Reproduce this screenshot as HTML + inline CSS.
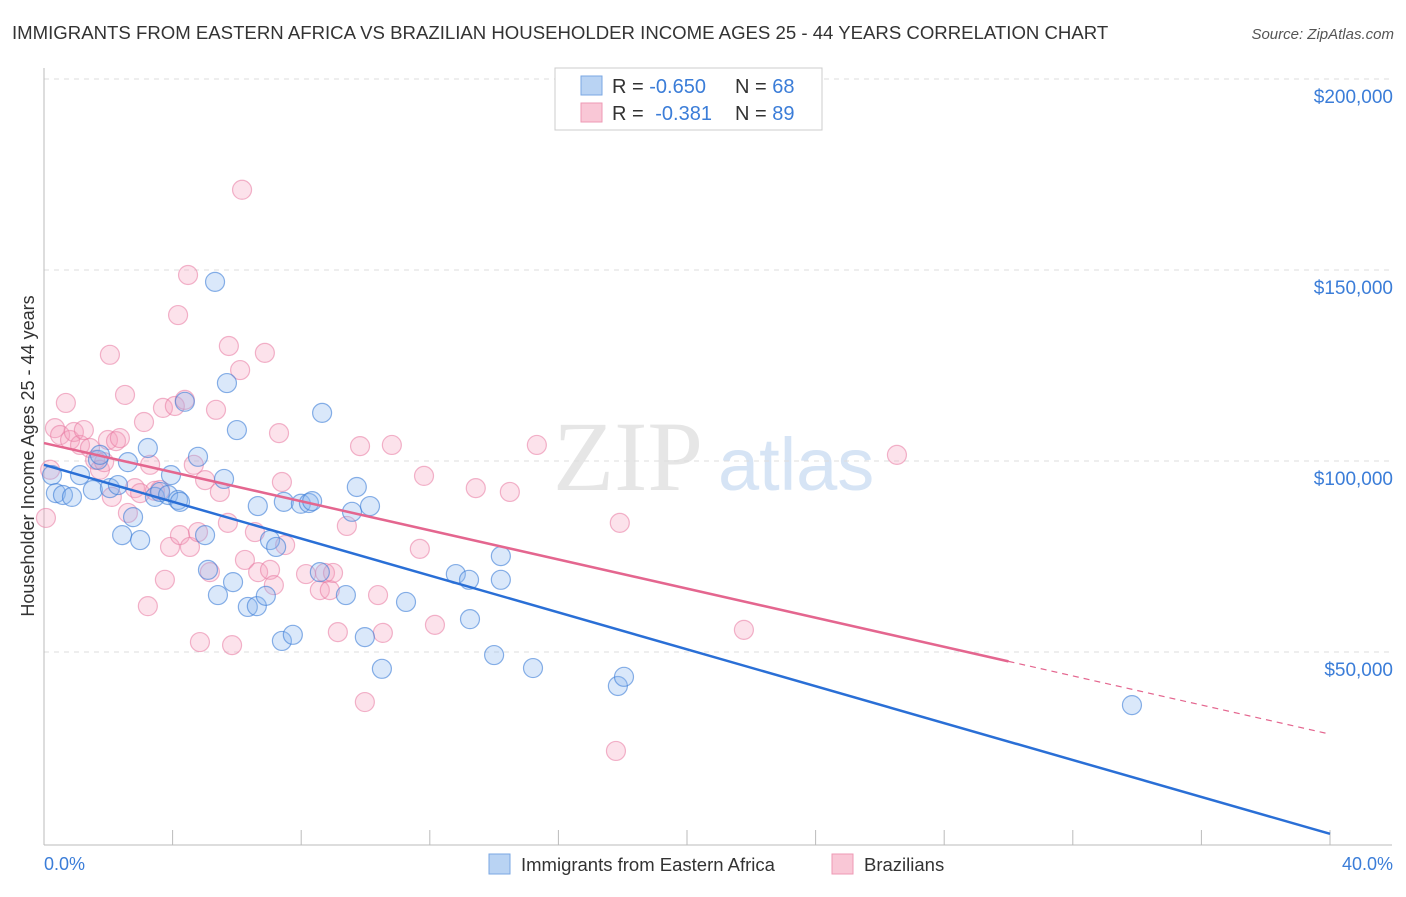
<!DOCTYPE html>
<html><head><meta charset="utf-8"><style>
body{margin:0;background:#fff;font-family:"Liberation Sans",sans-serif;}
svg text{font-family:"Liberation Sans",sans-serif;}
</style></head><body>
<svg id="chart" width="1406" height="892" xmlns="http://www.w3.org/2000/svg">
<text x="12" y="39" font-size="18.6" fill="#333">IMMIGRANTS FROM EASTERN AFRICA VS BRAZILIAN HOUSEHOLDER INCOME AGES 25 - 44 YEARS CORRELATION CHART</text>
<text x="1394" y="39" font-size="15" fill="#555" font-style="italic" text-anchor="end">Source: ZipAtlas.com</text>
<g>
<text x="553" y="490" font-size="100" fill="#e6e6e6" style="font-family:'Liberation Serif',serif">ZIP</text>
<text x="718" y="490" font-size="74" fill="#d6e4f5">atlas</text>
</g>
<g id="grid"></g>
<line x1="44" y1="68" x2="44" y2="845" stroke="#bbb" stroke-width="1"/>
<line x1="44" y1="845" x2="1392" y2="845" stroke="#bbb" stroke-width="1"/>
<text transform="translate(34,456) rotate(-90)" font-size="18" fill="#333" text-anchor="middle">Householder Income Ages 25 - 44 years</text>
<text x="44" y="870" font-size="18" fill="#3b7dd8">0.0%</text>
<text x="1393" y="870" font-size="18" fill="#3b7dd8" text-anchor="end">40.0%</text>
<g id="marks"></g>
<g>
<rect x="555" y="68" width="267" height="62" fill="#fff" stroke="#ccc"/>
<rect x="581" y="76" width="21" height="19" fill="#b9d3f3" stroke="#7aa7e3"/>
<rect x="581" y="103" width="21" height="19" fill="#f9c7d6" stroke="#ee9ab4"/>
<text x="612" y="93" font-size="20" fill="#333">R = <tspan fill="#3b7dd8">-0.650</tspan></text>
<text x="735" y="93" font-size="20" fill="#333">N = <tspan fill="#3b7dd8">68</tspan></text>
<text x="612" y="120" font-size="20" fill="#333">R = <tspan fill="#3b7dd8" dx="6">-0.381</tspan></text>
<text x="735" y="120" font-size="20" fill="#333">N = <tspan fill="#3b7dd8">89</tspan></text>
</g>
<g>
<rect x="489" y="854" width="21" height="20" fill="#b9d3f3" stroke="#7aa7e3"/>
<text x="521" y="871" font-size="18.5" fill="#333">Immigrants from Eastern Africa</text>
<rect x="832" y="854" width="21" height="20" fill="#f9c7d6" stroke="#ee9ab4"/>
<text x="864" y="871" font-size="18.5" fill="#333">Brazilians</text>
</g>
</svg>
<script>
const yTicks=[50000,100000,150000,200000];
const yTickLabels=["$50,000","$100,000","$150,000","$200,000"];
const xTicks=[0,4,8,12,16,20,24,28,32,36,40];
const blueX=[0.25,0.37,0.59,0.87,1.12,1.52,1.68,1.74,2.05,2.30,2.43,2.61,2.77,2.99,3.23,3.45,3.61,3.86,3.95,4.17,4.23,4.38,4.79,5.01,5.10,5.32,5.41,5.60,5.69,5.88,6.00,6.34,6.62,6.65,6.90,7.03,7.22,7.40,7.46,7.74,7.99,8.24,8.34,8.58,8.65,9.39,9.58,9.73,9.98,10.14,10.51,11.26,12.81,13.22,13.25,14.00,14.21,14.21,15.21,17.85,18.04,33.84];
const blueY=[96.3,91.6,91.1,90.6,96.3,92.4,100.3,101.6,92.9,93.7,80.6,99.7,85.3,79.3,103.4,90.6,91.9,91.1,96.3,89.8,89.3,115.5,101.1,80.6,71.5,146.9,64.9,95.3,120.4,68.3,108.1,61.8,62.0,88.2,64.7,79.3,77.5,52.9,89.3,54.5,88.8,89.0,89.5,70.9,112.6,64.9,86.7,93.2,53.9,88.2,45.6,63.1,70.4,68.9,58.6,49.2,75.1,68.9,45.8,41.1,43.5,36.1];
const pinkX=[0.06,0.19,0.34,0.50,0.68,0.81,0.93,1.12,1.24,1.43,1.59,1.74,1.87,1.99,2.05,2.11,2.24,2.36,2.52,2.61,2.83,2.99,3.11,3.23,3.30,3.45,3.61,3.70,3.76,3.92,4.07,4.17,4.23,4.38,4.48,4.54,4.66,4.79,4.85,5.01,5.16,5.35,5.47,5.72,5.75,5.85,6.10,6.16,6.25,6.56,6.66,6.87,7.03,7.15,7.31,7.40,7.50,8.15,8.58,8.74,8.89,8.99,9.14,9.42,9.83,9.98,10.39,10.54,10.82,11.69,11.82,12.16,13.43,14.49,15.33,17.79,17.91,21.77,26.53];
const pinkY=[85.1,97.7,108.6,106.8,115.2,105.5,107.6,104.2,108.1,103.4,100.3,97.7,99.7,105.5,127.8,90.6,105.2,106.0,117.3,86.4,92.9,91.6,110.2,62.0,99.0,92.2,92.4,113.9,68.9,77.5,114.4,138.2,80.6,116.0,148.7,77.5,99.0,81.4,52.6,95.0,70.9,113.4,91.9,83.8,130.1,51.8,123.8,171.0,74.1,81.4,70.9,128.3,71.5,67.5,107.3,94.5,78.0,70.4,66.2,70.7,66.2,70.7,55.2,83.0,103.9,36.9,64.9,55.0,104.2,77.0,96.1,57.1,92.9,91.9,104.2,24.1,83.8,55.8,101.6];
const blueTrend=[99.0,2.4];   // income (k) at x=0% and x=40%
const pinkTrend=[104.7,28.5];
const pinkSolidEnd=30.0;

const NS="http://www.w3.org/2000/svg";
const X=v=>44+v/40*1286;
const Y=v=>843-v/50000*191;
const Yk=v=>Y(v*1000);
function mk(tag,attrs,parent){const e=document.createElementNS(NS,tag);for(const k in attrs)e.setAttribute(k,attrs[k]);parent.appendChild(e);return e;}
const grid=document.getElementById('grid');
yTicks.forEach((t,i)=>{
  const l=mk('line',{x1:44,x2:1392,y1:Y(t),y2:Y(t),stroke:'#ddd','stroke-dasharray':'5,5'},grid);
  
  
  const tx=mk('text',{x:1393,y:Y(t)+24,'font-size':19,fill:'#3b7dd8','text-anchor':'end'},grid);
  tx.textContent=yTickLabels[i];
  
  
});
xTicks.forEach(t=>{
  const l=mk('line',{x1:X(t),x2:X(t),y1:830,y2:845,stroke:'#bbb'},grid);
  
  
});
const marks=document.getElementById('marks');
pinkX.forEach((x,i)=>{
  const c=mk('circle',{cx:X(x),cy:Yk(pinkY[i]),r:9.5,fill:'rgba(245,160,190,0.3)',stroke:'rgba(232,120,160,0.55)','stroke-width':1.2},marks);
  
  
});
blueX.forEach((x,i)=>{
  const c=mk('circle',{cx:X(x),cy:Yk(blueY[i]),r:9.5,fill:'rgba(140,185,240,0.32)',stroke:'rgba(60,125,215,0.6)','stroke-width':1.2},marks);
  
  
});
const bl=mk('line',{x1:X(0),y1:Yk(blueTrend[0]),x2:X(40),y2:Yk(blueTrend[1]),stroke:'#2a6fd6','stroke-width':2.5},marks);


const pAt=x=>pinkTrend[0]+(pinkTrend[1]-pinkTrend[0])*x/40;
const pl=mk('line',{x1:X(0),y1:Yk(pinkTrend[0]),x2:X(pinkSolidEnd),y2:Yk(pAt(pinkSolidEnd)),stroke:'#e4668f','stroke-width':2.5},marks);


const pd=mk('line',{x1:X(pinkSolidEnd),y1:Yk(pAt(pinkSolidEnd)),x2:X(40),y2:Yk(pinkTrend[1]),stroke:'#e4668f','stroke-width':1.2,'stroke-dasharray':'6,5'},marks);


</script>
</body></html>
